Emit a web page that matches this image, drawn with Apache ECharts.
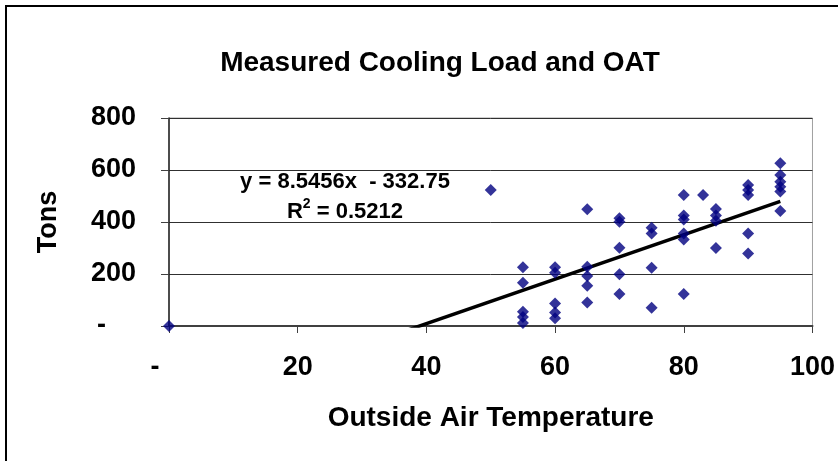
<!DOCTYPE html>
<html>
<head>
<meta charset="utf-8">
<script src="https://cdn.jsdelivr.net/npm/echarts@6/dist/echarts.min.js"></script>
<style>
html,body{margin:0;padding:0;background:#fff;}
#chart{width:838px;height:461px;}
</style>
</head>
<body>
<div id="chart"></div>
<script>
// Data
const titleText = 'Measured Cooling Load and OAT';
const xAxisName = 'Outside Air Temperature';
const yAxisName = 'Tons';
const xTicks = [0, 20, 40, 60, 80, 100];
const yTicks = [0, 200, 400, 600, 800];
const oat = [0, 50,
  55, 55, 55, 55, 55,
  60, 60, 60, 60, 60,
  65, 65, 65, 65, 65,
  70, 70, 70, 70, 70,
  75, 75, 75, 75,
  80, 80, 80, 80, 80, 80,
  83,
  85, 85, 85, 85,
  90, 90, 90, 90, 90,
  95, 95, 95, 95, 95, 95];
const tons = [0, 523,
  226, 166, 55, 35, 12,
  226, 205, 87, 52, 30,
  449, 228, 192, 155, 90,
  414, 401, 301, 199, 123,
  378, 356, 224, 70,
  504, 425, 410, 356, 333, 123,
  504,
  450, 425, 405, 300,
  542, 523, 504, 356, 279,
  626, 581, 555, 536, 517, 442];
const trendSlope = 8.5456;
const trendIntercept = -332.75;
const trendR2 = 0.5212;
const trendRange = [0, 95];

const points = oat.map((x, i) => [x, tons[i]]);
const trendData = trendRange.map(x => [x, trendSlope * x + trendIntercept]);

const FONT = 'Liberation Sans, Arial, sans-serif';
const chart = echarts.init(document.getElementById('chart'));
chart.setOption({
  backgroundColor: '#fff',
  animation: false,
  grid: {left: 169, right: 23, top: 118, bottom: 135, show: true, borderColor: '#a0a0a0', borderWidth: 1, backgroundColor: '#fff'},
  graphic: [
    {type: 'rect', shape: {x: 6, y: 6, width: 1000, height: 1000}, style: {fill: 'none', stroke: '#000', lineWidth: 2}, silent: true},
    {type: 'text', x: 440, y: 63, style: {text: titleText, align: 'center', verticalAlign: 'middle', font: 'bold 28px ' + FONT, fill: '#000'}},
    {type: 'text', x: 345, y: 197, style: {
      text: '{a|y = 8.5456x  - 332.75}\n{a|R}{s|2}{a| = ' + trendR2 + '}',
      align: 'center', verticalAlign: 'middle', lineHeight: 30,
      rich: {
        a: {fontFamily: FONT, fontWeight: 'bold', fontSize: 22, fill: '#000', lineHeight: 30},
        s: {fontFamily: FONT, fontWeight: 'bold', fontSize: 14, fill: '#000', verticalAlign: 'top', lineHeight: 30, padding: [0, 0, 12, 0]}
      }
    }}
  ],
  xAxis: {
    type: 'value', min: xTicks[0], max: xTicks[xTicks.length - 1], interval: 20,
    name: xAxisName, nameLocation: 'middle', nameGap: 78,
    nameTextStyle: {fontFamily: FONT, fontWeight: 'bold', fontSize: 28, color: '#000'},
    axisLine: {show: true, onZero: false, lineStyle: {color: '#404040', width: 2}},
    axisTick: {show: true, inside: false, length: 7, lineStyle: {color: '#404040', width: 1}},
    splitLine: {show: false},
    axisLabel: {
      margin: 28, fontFamily: FONT, fontWeight: 'bold', fontSize: 27, color: '#000',
      formatter: v => v === 0 ? '{z|-}' : String(v),
      rich: {z: {fontFamily: FONT, fontWeight: 'bold', fontSize: 27, color: '#000', padding: [0, 28, 0, 0]}}
    }
  },
  yAxis: {
    type: 'value', min: yTicks[0], max: yTicks[yTicks.length - 1], interval: 200,
    name: yAxisName, nameLocation: 'middle', nameGap: 107, nameRotate: 90,
    nameTextStyle: {fontFamily: FONT, fontWeight: 'bold', fontSize: 27, color: '#000'},
    axisLine: {show: true, onZero: false, lineStyle: {color: '#202020', width: 1.5}},
    axisTick: {show: true, inside: false, length: 8, lineStyle: {color: '#404040', width: 1}},
    splitLine: {show: true, lineStyle: {color: '#303030', width: 1}},
    axisLabel: {
      margin: 33, fontFamily: FONT, fontWeight: 'bold', fontSize: 27, color: '#000',
      formatter: v => v === 0 ? '{z|-}' : String(v),
      rich: {z: {fontFamily: FONT, fontWeight: 'bold', fontSize: 27, color: '#000', padding: [0, 30, 0, 0]}}
    }
  },
  series: [
    {
      type: 'line', data: trendData, symbol: 'none', clip: true, z: 3,
      lineStyle: {color: '#000', width: 3.5}, silent: true
    },
    {
      type: 'scatter', data: points, symbol: 'diamond', symbolSize: 12, z: 4,
      itemStyle: {color: '#000080'}
    }
  ]
});
</script>
</body>
</html>
